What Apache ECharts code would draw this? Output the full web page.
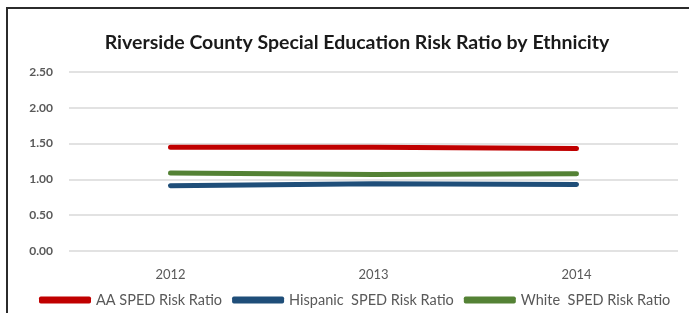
<!DOCTYPE html>
<html>
<head>
    <title>Riverside County Special Education Risk Ratio by Ethnicity</title>
    <script src="https://cdn.jsdelivr.net/npm/echarts@6/dist/echarts.min.js"></script>
    <style>
        body {
            margin: 0;
            padding: 0;
            background-color: #ffffff;
        }

        #chart {
            width: 689px;
            height: 313px;
        }
    </style>
</head>
<body>
    <div id="chart"></div>

    <script>
        var years = ['2012', '2013', '2014'];
        var seriesNames = ['AA SPED Risk Ratio', 'Hispanic  SPED Risk Ratio', 'White  SPED Risk Ratio'];
        var aaValues = [1.45, 1.45, 1.43];
        var hispanicValues = [0.91, 0.94, 0.93];
        var whiteValues = [1.09, 1.07, 1.08];
        var colors = ['#c00000', '#1f4e79', '#548235'];

        var chart = echarts.init(document.getElementById('chart'));

        function makeLine(name, values, color) {
            return {
                name: name,
                type: 'line',
                data: values,
                symbol: 'none',
                lineStyle: { width: 5, color: color, cap: 'round' },
                itemStyle: { color: color }
            };
        }

        var option = {
            animation: false,
            textStyle: { fontFamily: 'Lato' },
            graphic: [{
                type: 'rect',
                shape: { x: 7, y: 8, width: 720, height: 340 },
                style: { fill: 'none', stroke: '#2b2b2b', lineWidth: 2 }
            }],
            title: {
                text: 'Riverside County Special Education Risk Ratio by Ethnicity',
                left: 352,
                textAlign: 'center',
                top: 23,
                textStyle: { fontSize: 19.5, fontWeight: 'bold', color: '#1a1a1a', fontFamily: 'Lato' }
            },
            legend: {
                top: 284,
                left: 34,
                itemWidth: 52,
                itemHeight: 7,
                itemGap: 10,
                icon: 'roundRect',
                textStyle: { fontSize: 14.5, color: '#595959', fontFamily: 'Lato' },
                data: seriesNames
            },
            grid: { left: 69, right: 11, top: 72, bottom: 62 },
            xAxis: {
                type: 'category',
                data: years,
                boundaryGap: true,
                axisLine: { show: false },
                axisTick: { show: false },
                axisLabel: { color: '#595959', fontSize: 13, margin: 14 }
            },
            yAxis: {
                type: 'value',
                min: 0,
                max: 2.5,
                interval: 0.5,
                axisLine: { show: false },
                axisTick: { show: false },
                axisLabel: {
                    color: '#595959',
                    fontSize: 12,
                    fontWeight: 'bold',
                    margin: 16,
                    formatter: function (v) { return v.toFixed(2); }
                },
                splitLine: { lineStyle: { color: '#d9d9d9', width: 1.5 } }
            },
            series: [
                makeLine(seriesNames[0], aaValues, colors[0]),
                makeLine(seriesNames[1], hispanicValues, colors[1]),
                makeLine(seriesNames[2], whiteValues, colors[2])
            ]
        };

        chart.setOption(option);
    </script>
</body>
</html>
